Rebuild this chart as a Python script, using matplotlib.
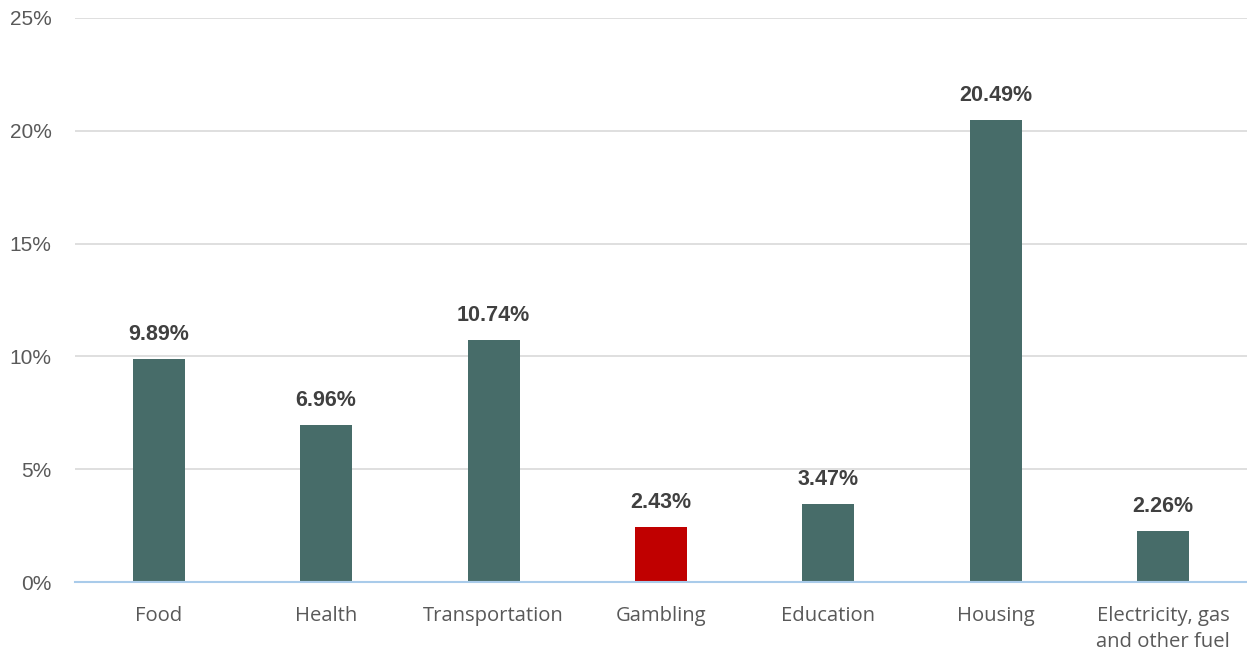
import matplotlib
matplotlib.use("Agg")
import matplotlib.pyplot as plt
from matplotlib.ticker import FuncFormatter, MultipleLocator

categories = ["Food", "Health", "Transportation", "Gambling", "Education",
              "Housing", "Electricity, gas\nand other fuel"]
shares = [9.89, 6.96, 10.74, 2.43, 3.47, 20.49, 2.26]
highlight = "Gambling"

base_color = "#476C69"
highlight_color = "#C00000"
colors = [highlight_color if c == highlight else base_color for c in categories]

fig = plt.figure(figsize=(12.47, 6.55), dpi=100)
ax = fig.add_axes([75 / 1247, 1 - 582 / 655, 1 - 75 / 1247, (582 - 18) / 655])

x = range(len(categories))
bars = ax.bar(x, shares, width=0.31, color=colors, zorder=3)

ax.set_xlim(-0.5, len(categories) - 0.5)
ax.set_ylim(0, 25)
ax.yaxis.set_major_locator(MultipleLocator(5))
ax.yaxis.set_major_formatter(FuncFormatter(lambda v, p: f"{v:.0f}%"))
ax.grid(axis="y", color="#D9D9D9", linewidth=1.2, zorder=0)
ax.set_axisbelow(True)

for side in ("top", "right", "left"):
    ax.spines[side].set_visible(False)
ax.spines["bottom"].set_color("#A9CBEA")
ax.spines["bottom"].set_linewidth(1.5)
ax.spines["bottom"].set_zorder(4)

ax.tick_params(axis="y", length=0, pad=17, labelsize=15, labelcolor="#595959")
ax.tick_params(axis="x", length=0, pad=17, labelcolor="#595959")
for lbl in ax.get_yticklabels():
    lbl.set_family("Liberation Sans")

ax.set_xticks(list(x))
ax.set_xticklabels(categories, fontsize=14.6, family="Open Sans", linespacing=1.4)

for rect, val in zip(bars, shares):
    ax.annotate(f"{val:.2f}%", (rect.get_x() + rect.get_width() / 2, val),
                xytext=(0, 10), textcoords="offset points",
                ha="center", va="bottom", fontsize=15.5, fontweight="bold",
                family="Liberation Sans", color="#404040")

fig.savefig("out.png", dpi=100)
